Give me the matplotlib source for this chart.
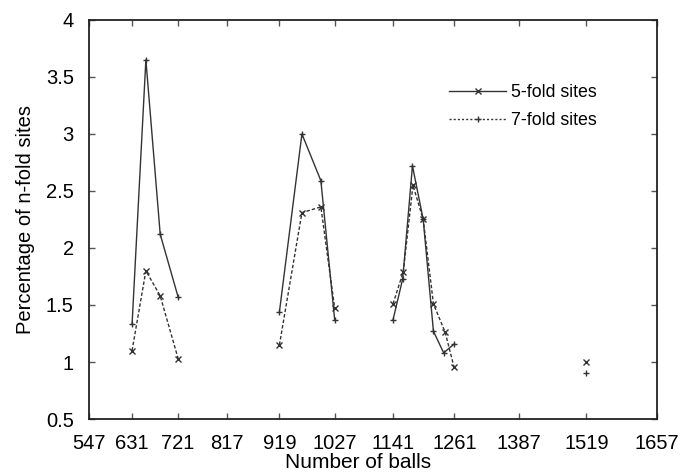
import numpy as np
import matplotlib
matplotlib.use("Agg")
import matplotlib.pyplot as plt
from matplotlib.lines import Line2D

plt.rcParams['font.family'] = ['Liberation Sans', 'DejaVu Sans']

nan = np.nan
# Number of balls (NaN separates the groups)
balls_5 = [631, 658, 686, 721, nan, 919, 963, 1000, 1027, nan,
           1141, 1160, 1179, 1200, 1220, 1240, 1261, nan, 1519]
fold5 = [1.33, 3.65, 2.12, 1.57, nan, 1.44, 3.00, 2.59, 1.37, nan,
         1.37, 1.73, 2.72, 2.25, 1.27, 1.08, 1.16, nan, 0.90]

balls_7 = [631, 658, 686, 721, nan, 919, 963, 1000, 1027, nan,
           1141, 1161, 1180, 1200, 1220, 1243, 1260, nan, 1519]
fold7 = [1.10, 1.80, 1.58, 1.03, nan, 1.15, 2.31, 2.36, 1.47, nan,
         1.51, 1.79, 2.55, 2.25, 1.51, 1.26, 0.96, nan, 1.00]

xticks = [547, 631, 721, 817, 919, 1027, 1141, 1261, 1387, 1519, 1657]
yticks = [0.5, 1, 1.5, 2, 2.5, 3, 3.5, 4]
ytick_labels = ['0.5', '1', '1.5', '2', '2.5', '3', '3.5', '4']

fig = plt.figure(figsize=(6.96, 4.74), dpi=100)
ax = fig.add_axes([0.128, 0.116, 0.816, 0.842])

ax.plot(balls_5, fold5, color='#333333', lw=1.0, ls='-', marker='+',
        ms=5, mew=1.0)
ax.plot(balls_7, fold7, color='#333333', lw=1.0, ls=(0, (2.5, 1.5)),
        marker='x', ms=4, mew=1.0)

ax.set_xlim(547, 1657)
ax.set_ylim(0.5, 4)
ax.set_xticks(xticks)
ax.set_xticklabels([str(t) for t in xticks])
ax.set_yticks(yticks)
ax.set_yticklabels(ytick_labels)
ax.tick_params(direction='in', top=True, right=True, length=4,
               width=1, color='#555555', labelsize=14.5, pad=11)
for s in ax.spines.values():
    s.set_linewidth(1.3)
    s.set_color('#222222')

ax.set_xlabel('Number of balls', fontsize=15, labelpad=0, x=0.474)
ax.set_ylabel('Percentage of n-fold sites', fontsize=14.5, labelpad=8)

handles = [Line2D([], [], color='#333333', lw=1.0, ls='-', marker='x',
                  ms=4, mew=1.0),
           Line2D([], [], color='#333333', lw=1.0, ls=(0, (1.5, 1.5)),
                  marker='+', ms=4, mew=1.0)]
ax.legend(handles, ['5-fold sites', '7-fold sites'], loc='center left',
          bbox_to_anchor=(0.634, 0.782), frameon=False, fontsize=12.8,
          borderpad=0, borderaxespad=0,
          handlelength=3.2, handletextpad=0.28, labelspacing=0.62)

fig.savefig('out.png', dpi=100)
